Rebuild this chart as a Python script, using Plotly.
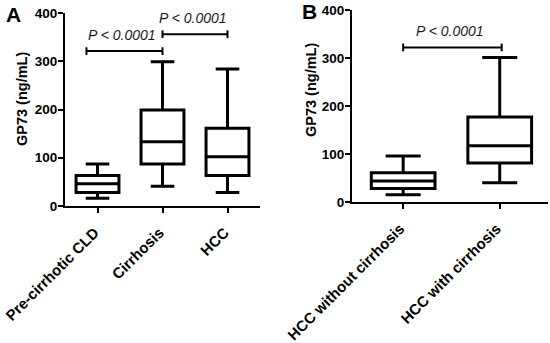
import plotly.graph_objects as go

# ---- data ----
cats_a = ["Pre-cirrhotic CLD", "Cirrhosis", "HCC"]
lower_a = [16, 41, 28]
q1_a = [28, 87, 63]
median_a = [46, 133, 102]
q3_a = [63, 199, 161]
upper_a = [87, 299, 284]

cats_b = ["HCC without cirrhosis", "HCC with cirrhosis"]
lower_b = [15, 40]
q1_b = [28, 81]
median_b = [44, 117]
q3_b = [61, 177]
upper_b = [96, 301]

# significance brackets: (start, end in category-index units, y value, label)
brackets_a = [(-0.17, 1.0, 321, "P < 0.0001"), (1.0, 2.0, 356, "P < 0.0001")]
brackets_b = [(0.0, 1.02, 322, "P < 0.0001")]

y_ticks = [0, 100, 200, 300, 400]
y_title = "GP73 (ng/mL)"
panel_labels = ["A", "B"]

# ---- styling ----
FONT = "Liberation Sans, Arial, sans-serif"
W, H = 550, 343


def px(v):
    return v / W


def py(v):
    return 1 - v / H


fig = go.Figure()


def add_box(cats, lo, q1, med, q3, hi, xa, ya):
    fig.add_trace(go.Box(
        x=cats, lowerfence=lo, q1=q1, median=med, q3=q3, upperfence=hi,
        xaxis=xa, yaxis=ya, width=0.66, whiskerwidth=0.55,
        fillcolor="white", line=dict(color="black", width=3),
        boxpoints=False, showlegend=False, hoverinfo="skip"))


add_box(cats_a, lower_a, q1_a, median_a, q3_a, upper_a, "x", "y")
add_box(cats_b, lower_b, q1_b, median_b, q3_b, upper_b, "x2", "y2")

shapes = []
annotations = []


def add_brackets(brs, xref, yref):
    for x0, x1, yv, txt in brs:
        shapes.append(dict(type="line", xref=xref, yref=yref, x0=x0, x1=x1,
                           y0=yv, y1=yv, line=dict(color="black", width=2)))
        for xx in (x0, x1):
            shapes.append(dict(type="line", xref=xref, yref=yref, x0=xx, x1=xx,
                               y0=yv - 8, y1=yv + 8, line=dict(color="black", width=2)))
        annotations.append(dict(x=(x0 + x1) / 2, y=yv, xref=xref, yref=yref,
                                text="<i>" + txt + "</i>", showarrow=False,
                                xanchor="center", yanchor="bottom", yshift=6, xshift=-2,
                                font=dict(family=FONT, size=14, color="#1a1a1a")))


add_brackets(brackets_a, "x", "y")
add_brackets(brackets_b, "x2", "y2")

# y titles
for xpos, ypos in ((22, 99), (311, 90)):
    annotations.append(dict(x=px(xpos), y=py(ypos), xref="paper", yref="paper",
                            xanchor="center", yanchor="middle",
                            text="<b>" + y_title + "</b>", textangle=-90, showarrow=False,
                            font=dict(family=FONT, size=14.5, color="black")))
# panel letters
for lab, xpos, ypos in ((panel_labels[0], 13, 14), (panel_labels[1], 309, 12)):
    annotations.append(dict(x=px(xpos), y=py(ypos), xref="paper", yref="paper",
                            xanchor="center", yanchor="middle",
                            text="<b>" + lab + "</b>", showarrow=False,
                            font=dict(family=FONT, size=21, color="black")))

axis_common = dict(showline=True, linecolor="black", linewidth=2, ticks="outside",
                   ticklen=5, tickwidth=2, tickcolor="black", showgrid=False,
                   zeroline=False, automargin=False,
                   tickfont=dict(family=FONT, size=13.5, color="black"))

xtickfont = dict(family=FONT, size=15, color="black")
xa = dict(axis_common, type="category", tickangle=-45, range=[-0.5, 2.5],
          domain=[px(65), px(260)], anchor="y", tickfont=xtickfont,
          ticklabelstandoff=5, ticklabelshift=-3,
          tickvals=cats_a, ticktext=["<b>" + c + "</b>" for c in cats_a])
xb = dict(axis_common, type="category", tickangle=-45, range=[-0.53, 1.5],
          domain=[px(352), px(548)], anchor="y2", tickfont=xtickfont,
          ticklabelstandoff=5, ticklabelshift=-3,
          tickvals=cats_b, ticktext=["<b>" + c + "</b>" for c in cats_b])
ya = dict(axis_common, range=[0, 400], domain=[py(206), py(13)], anchor="x",
          ticklabelstandoff=-2,
          tickvals=y_ticks, ticktext=["<b>%d</b>" % v for v in y_ticks])
yb = dict(axis_common, range=[0, 400], domain=[py(202), py(10)], anchor="x2",
          ticklabelstandoff=-2,
          tickvals=y_ticks, ticktext=["<b>%d</b>" % v for v in y_ticks])

fig.update_layout(
    width=W, height=H, margin=dict(l=0, r=0, t=0, b=0),
    paper_bgcolor="white", plot_bgcolor="white",
    xaxis=xa, yaxis=ya, xaxis2=xb, yaxis2=yb,
    shapes=shapes, annotations=annotations, showlegend=False,
    font=dict(family=FONT, color="black"))

# remove the default page margin so the 550x343 figure fills the window
fig.write_html("out.html", config={"displayModeBar": False},
               post_script="document.body.style.margin='0';")
